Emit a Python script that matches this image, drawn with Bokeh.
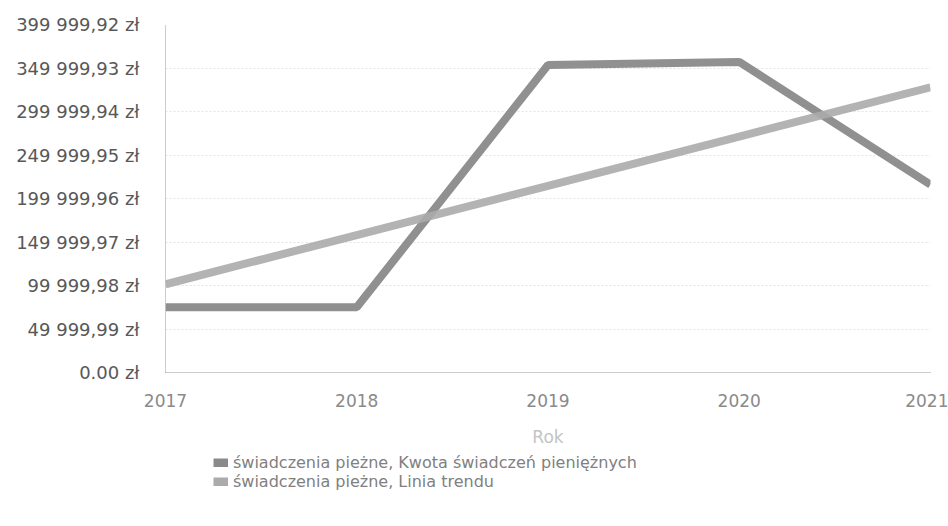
from bokeh.plotting import figure
from bokeh.layouts import column
from bokeh.models import FixedTicker, Legend, LegendItem, Range1d
from bokeh.embed import file_html
from bokeh.resources import INLINE

years = [2017, 2018, 2019, 2020, 2021]
kwota = [75000, 75000, 353500, 357000, 216000]
trend = [101400, 158000, 214600, 271200, 327800]

y_ticks = [0, 49999.99, 99999.98, 149999.97, 199999.96, 249999.95, 299999.94, 349999.93, 399999.92]
y_labels = ["0.00 zł", "49 999,99 zł", "99 999,98 zł", "149 999,97 zł", "199 999,96 zł",
            "249 999,95 zł", "299 999,94 zł", "349 999,93 zł", "399 999,92 zł"]
x_labels = ["2017", "2018", "2019", "2020", "2021"]
series_names = ["świadczenia pieżne, Kwota świadczeń pieniężnych", "świadczenia pieżne, Linia trendu"]
series_colors = ["#8a8a8a", "#ababab"]

FONT = "DejaVu Sans"

p = figure(width=948, height=450, output_backend="svg", toolbar_location=None,
           x_range=Range1d(2017, 2021), y_range=Range1d(0, 399999.92),
           min_border_left=165, min_border_right=18, min_border_top=24, min_border_bottom=78)
p.outline_line_color = None
p.background_fill_color = "white"

p.line(years, kwota, line_color=series_colors[0], line_width=8, line_alpha=0.95)
p.line(years, trend, line_color=series_colors[1], line_width=8, line_alpha=0.9)

p.xaxis.ticker = FixedTicker(ticks=years)
p.xaxis.major_label_overrides = {y: s for y, s in zip(years, x_labels)}
p.yaxis.ticker = FixedTicker(ticks=y_ticks)
p.yaxis.major_label_overrides = {t: s for t, s in zip(y_ticks, y_labels)}

for ax in (p.xaxis, p.yaxis):
    ax.major_tick_line_color = None
    ax.minor_tick_line_color = None
    ax.axis_line_color = "#9a9a9a"
    ax.axis_line_dash = "1 1"
    ax.major_label_text_font = FONT

p.yaxis.major_label_text_font_size = "18px"
p.yaxis.major_label_text_color = "#585858"
p.yaxis.major_label_standoff = 20
p.xaxis.major_label_text_font_size = "17px"
p.xaxis.major_label_text_color = "#8a8a8a"
p.xaxis.major_label_standoff = 15
p.xaxis.axis_label = "Rok"
p.xaxis.axis_label_text_font = FONT
p.xaxis.axis_label_text_font_style = "normal"
p.xaxis.axis_label_text_font_size = "17px"
p.xaxis.axis_label_text_color = "#c4c4c4"
p.xaxis.axis_label_standoff = 17

p.xgrid.grid_line_color = None
p.ygrid.grid_line_color = "#e4e4e4"
p.ygrid.grid_line_dash = "2 2"

# legend strip below the chart (its glyph renderers lie outside its own view)
lf = figure(width=948, height=76, output_backend="svg", toolbar_location=None,
            x_range=Range1d(0, 1), y_range=Range1d(0, 1),
            min_border=0, min_border_left=0, min_border_right=0, min_border_top=0, min_border_bottom=0)
lf.axis.visible = False
lf.grid.visible = False
lf.outline_line_color = None
g1 = lf.line(years, kwota, line_color=series_colors[0], line_width=9)
g2 = lf.line(years, trend, line_color=series_colors[1], line_width=9)
legend = Legend(items=[LegendItem(label=series_names[0], renderers=[g1]),
                       LegendItem(label=series_names[1], renderers=[g2])],
                location=(48, 35), orientation="vertical",
                label_text_font=FONT, label_text_font_size="16px", label_text_color="#808080",
                label_text_line_height=0.85,
                glyph_width=15, glyph_height=9, label_height=16, label_standoff=5,
                spacing=0, padding=0, margin=0, border_line_color=None, background_fill_alpha=0)
lf.add_layout(legend, "center")

layout = column(p, lf, spacing=0)
open("out.html", "w").write(file_html(layout, INLINE))
